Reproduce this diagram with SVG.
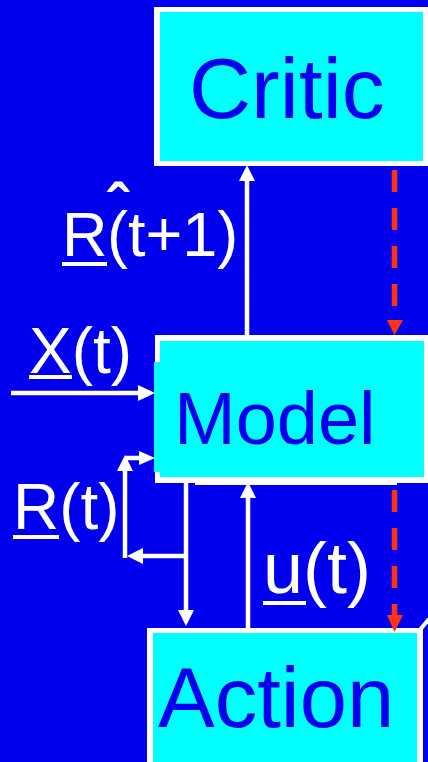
<svg xmlns="http://www.w3.org/2000/svg" width="428" height="762" viewBox="0 0 428 762">
<style>
.lbl{font-family:"Liberation Sans",Arial,sans-serif;fill:#FFFFFF;}
.nt{font-family:"Liberation Sans",Arial,sans-serif;fill:#0000EE;}
.w{stroke:#FFFFFF;stroke-width:4.5;fill:none;}
.rd{stroke:#FF3311;stroke-width:5.5;fill:none;stroke-dasharray:22 16;}
.wh{fill:#FFFFFF;}
.rh{fill:#FF3311;}
.cy{fill:#00FFFF;}
</style>
<rect x="0" y="0" width="428" height="762" fill="#0000EE"/>
<g id="critic">
<rect x="154" y="7" width="274" height="159" class="wh"/>
<rect x="160" y="12" width="263" height="149" class="cy"/>
<text x="189" y="118" font-size="86" class="nt">Critic</text>
</g>
<g id="model">
<rect x="155" y="335" width="273" height="148" class="wh"/>
<rect x="195" y="477" width="202" height="8" class="wh"/>
<rect x="160" y="341" width="264" height="136" class="cy"/>
<rect x="154" y="362" width="8" height="110" class="cy"/>
<text x="174" y="444" font-size="74" class="nt">Model</text>
</g>
<g id="action">
<rect x="147" y="628" width="276" height="140" class="wh"/>
<rect x="153" y="633" width="264" height="135" class="cy"/>
<line x1="419" y1="631" x2="429" y2="619" stroke="#FFFFFF" stroke-width="4"/>
<text x="158" y="727" font-size="85" class="nt">Action</text>
</g>
<g id="connectors">
<line x1="247" y1="335" x2="247" y2="178" class="w"/>
<polygon points="247,165 239,181 255,181" class="wh"/>
<line x1="11" y1="393" x2="140" y2="393" class="w"/>
<polygon points="155,393 138,385 138,401" class="wh"/>
<line x1="186" y1="483" x2="186" y2="612" class="w"/>
<polygon points="186,626 178,610 194,610" class="wh"/>
<line x1="186" y1="556" x2="140" y2="556" class="w"/>
<polygon points="127,556 143,548 143,564" class="wh"/>
<line x1="125" y1="558" x2="125" y2="468" class="w"/>
<polygon points="125,455 117,471 133,471" class="wh"/>
<line x1="125" y1="458" x2="141" y2="458" class="w"/>
<polygon points="155,458 139,451 139,465" class="wh"/>
<line x1="248" y1="628" x2="248" y2="495" class="w"/>
<polygon points="248,482 240,498 256,498" class="wh"/>
<line x1="394.5" y1="170" x2="394.5" y2="318" class="rd"/>
<polygon points="394.5,335 387,320 403,320" class="rh"/>
<line x1="394.5" y1="490" x2="394.5" y2="616" class="rd"/>
<polygon points="394.5,632 387,615 403,615" class="rh"/>
</g>
<g id="labels">
<text x="62" y="256" font-size="63" class="lbl">R<tspan x="107" y="228" font-weight="bold">ˆ</tspan><tspan x="107" y="256">(t+1)</tspan></text>
<rect x="62" y="262" width="45" height="4" class="wh"/>
<text x="29" y="373" font-size="64" class="lbl">X(t)</text>
<rect x="29" y="375" width="43" height="4" class="wh"/>
<text x="13" y="529" font-size="64" class="lbl">R(t)</text>
<rect x="13" y="535" width="46" height="4" class="wh"/>
<text x="263" y="593" font-size="72" class="lbl">u(t)</text>
<rect x="263" y="601" width="43" height="4" class="wh"/>
</g>
</svg>
